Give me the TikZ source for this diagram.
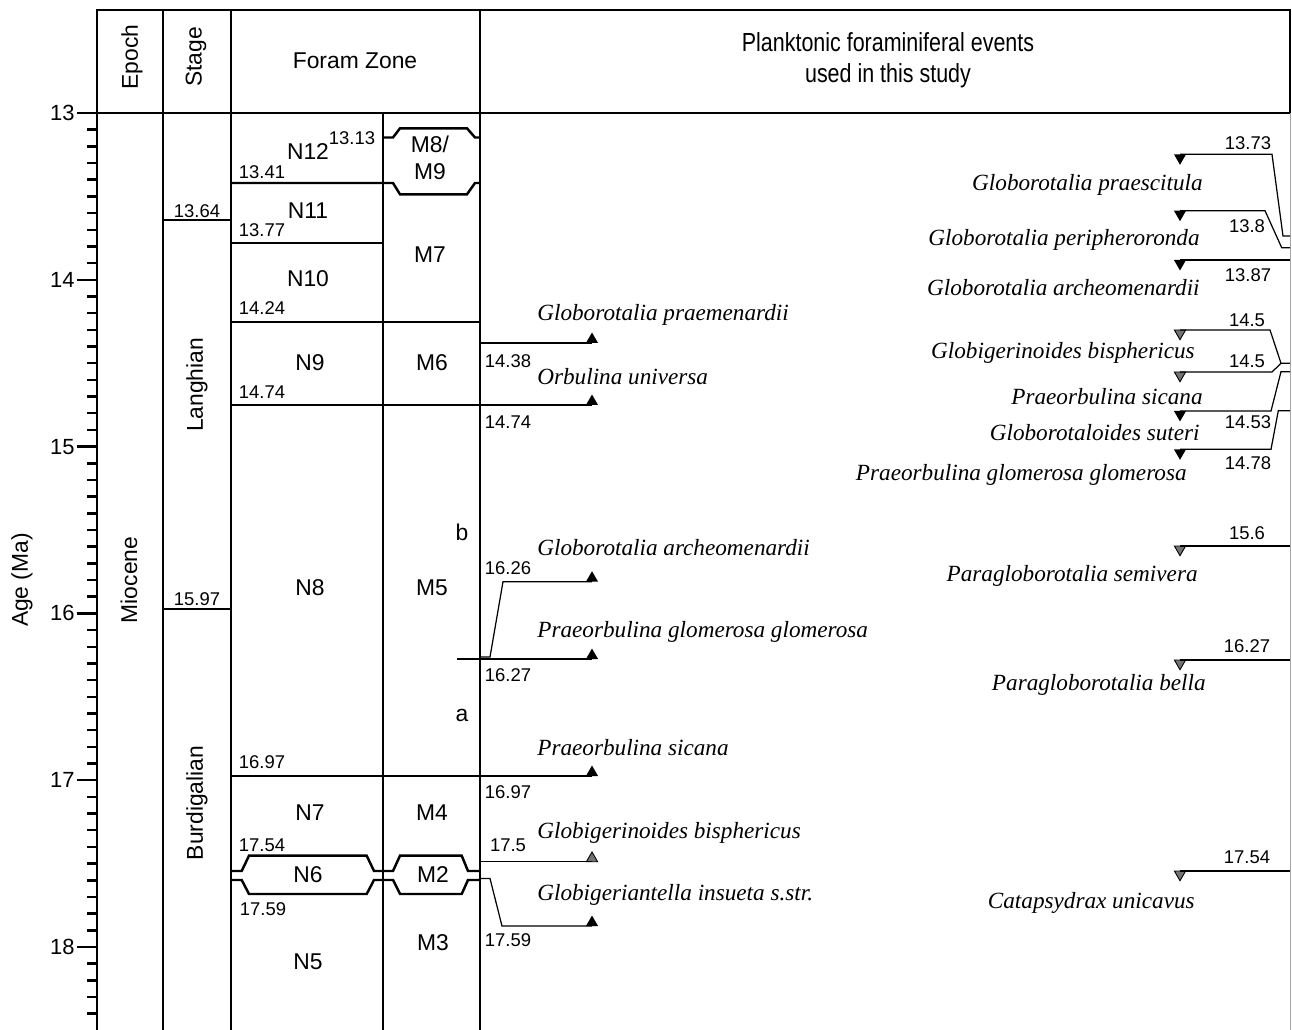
\documentclass[tikz,border=0pt]{standalone}
\usepackage{fontspec}
\setmainfont{Liberation Serif}
\setsansfont{Liberation Sans}
\newfontfamily\narrowsf[FakeStretch=0.82]{Liberation Sans}
\usetikzlibrary{shapes.geometric}

\tikzset{
  zone/.style={line width=1.4pt},
  ev/.style={line width=0.7pt},
  lab/.style={font=\sffamily\fontsize{13}{15}\selectfont,inner sep=0pt},
  num/.style={font=\sffamily\fontsize{10.5}{12}\selectfont,inner sep=0pt},
  axnum/.style={font=\sffamily\fontsize{12.5}{14}\selectfont,inner sep=0pt,anchor=east},
  spec/.style={font=\fontsize{13.2}{15}\selectfont\itshape,inner sep=0pt},
  uptri/.style={regular polygon,regular polygon sides=3,fill,inner sep=0pt,outer sep=0pt,minimum size=0.28cm,anchor=south},
  dntri/.style={uptri,shape border rotate=180,anchor=north},
  gtri/.style={draw=black,fill=black!55,line width=0.5pt,minimum size=0.26cm}
}

\begin{document}
\begin{tikzpicture}[x=0.02cm,y=-0.02cm]
\useasboundingbox (0,0) rectangle (1292,1030);
%frame and columns
\draw[zone](97,1030)--(97,10)--(1290,10)--(1290,113);
\draw[zone](163,10)--(163,1030) (231,10)--(231,1030) (480,10)--(480,1030) (383,113)--(383,1030);
\draw[zone](77,113)--(1290,113);
\draw[black!35,line width=0.5pt](1290,113)--(1290,1030);
%age axis
\foreach \i in {0,...,54}{\draw[zone](87,113+\i*16.68)--(97,113+\i*16.68);}
\foreach \a [count=\i from 0] in {13,...,18}{
  \draw[zone](77,113+\i*166.8)--(97,113+\i*166.8);
  \node[axnum](ax\a) at (75,113+\i*166.8){\a};}
\node[lab,rotate=90](agema) at (22,580){Age (Ma)};
%header
\node[lab,rotate=90](epoch) at (132,57){Epoch};
\node[lab,rotate=90](stage) at (196,57){Stage};
\node[lab](foram) at (355,61){Foram Zone};
\node[font=\narrowsf\fontsize{14.9}{17.5}\selectfont,align=center,inner sep=0pt](events) at (888,60){Planktonic foraminiferal events\\used in this study};
%epoch and stage
\node[lab,rotate=90](miocene) at (129,580){Miocene};
\node[lab,rotate=90](langhian) at (197,385){Langhian};
\node[lab,rotate=90](burdig) at (197,803){Burdigalian};
\draw[zone](163,220)--(231,220) (163,609)--(231,609);
\node[num] at (197,211){13.64};
\node[num] at (197,599){15.97};
%foram zones
\draw[zone](231,183)--(393,183)--(400,194.3)--(467,194.3)--(475,183)--(480,183);
\draw[zone](383,137.5)--(393,137.5)--(400,128.3)--(467,128.3)--(475,137.5)--(480,137.5);
\draw[zone](231,243)--(383,243) (231,322)--(480,322) (231,405)--(480,405) (231,776)--(480,776);
\draw[zone](231,871)--(241.7,871)--(249,855.7)--(366.7,855.7)--(374,871)--(393,871)--(400,855.7)--(461.7,855.7)--(468,871)--(480,871);
\draw[zone](231,880)--(241.7,880)--(249,894)--(366.7,894)--(374,880)--(393,880)--(400,894)--(461.7,894)--(468,880)--(480,880);
\node[lab](n12) at (308,152){N12};
\node[num] at (352,138){13.13};
\node[num] at (262,172){13.41};
\node[lab](n11) at (308,211){N11};
\node[num] at (262,230){13.77};
\node[lab](n10) at (308,279){N10};
\node[num] at (262,308){14.24};
\node[lab](n9) at (310,363){N9};
\node[num] at (262,392){14.74};
\node[lab](n8) at (310,588){N8};
\node[num] at (262,762){16.97};
\node[lab](n7) at (310,813){N7};
\node[num] at (262,845){17.54};
\node[lab](n6) at (308,875){N6};
\node[num] at (263,909){17.59};
\node[lab](n5) at (308,962){N5};
\node[lab,align=center](m8) at (430,158){M8/\\M9};
\node[lab](m7) at (430,255){M7};
\node[lab](m6) at (432,363){M6};
\node[lab](m5) at (432,588){M5};
\node[lab](m5b) at (462,532){b};
\node[lab](m5a) at (462,715){a};
\node[lab](m4) at (432,813){M4};
\node[lab](m2) at (433,875){M2};
\node[lab](m3) at (433,943){M3};
%first occurrences
\node[uptri](pmen) at (592,343){};
\draw[ev](480,343)--(pmen.south);
\node[spec,anchor=west] at (537,315){Globorotalia praemenardii};
\node[num] at (508,361){14.38};
\node[uptri](ouni) at (592,405){};
\draw[ev](480,405)--(ouni.south);
\node[spec,anchor=west] at (537,377){Orbulina universa};
\node[num] at (508,422){14.74};
\node[uptri](arch) at (592,581.7){};
\draw[ev](480,657)--(490,657)--(503,581.7)--(arch.south);
\node[spec,anchor=west] at (537,548){Globorotalia archeomenardii};
\node[num] at (508,568){16.26};
\node[uptri](pglo) at (592,659){};
\draw[ev](457,659)--(pglo.south);
\node[spec,anchor=west] at (537,632){Praeorbulina glomerosa glomerosa};
\node[num] at (508,675){16.27};
\node[uptri](psic) at (592,776){};
\draw[ev](480,776)--(psic.south);
\node[spec,anchor=west] at (537,748){Praeorbulina sicana};
\node[num] at (508,792){16.97};
\node[uptri,gtri](gbis) at (592,861.7){};
\draw[ev](480,861.7)--(gbis.south);
\node[spec,anchor=west] at (537,833){Globigerinoides bisphericus};
\node[num] at (508,845){17.5};
\node[uptri](gins) at (592,926){};
\draw[ev](480,878.5)--(490,878.5)--(502,926)--(gins.south);
\node[spec,anchor=west] at (537,895){Globigeriantella insueta s.str.};
\node[num] at (508,940){17.59};
%last occurrences
\node[dntri](gpra) at (1180,154.3){};
\draw[ev](gpra.north)--(1272,154.3)--(1283,236)--(1290,236);
\node[num] at (1248,143){13.73};
\node[spec,anchor=east] at (1203,185){Globorotalia praescitula};
\node[dntri](gper) at (1180,210.7){};
\draw[ev](gper.north)--(1265,210.7)--(1281.7,247.7)--(1290,247.7);
\node[num] at (1247,226){13.8};
\node[spec,anchor=east] at (1200,240){Globorotalia peripheroronda};
\node[dntri](garc) at (1180,260){};
\draw[ev](garc.north)--(1290,260);
\node[num] at (1248,275){13.87};
\node[spec,anchor=east] at (1200,288){Globorotalia archeomenardii};
\node[dntri,gtri](rbis) at (1180,330){};
\draw[ev](rbis.north)--(1270,330)--(1281,363.3)--(1290,363.3);
\node[num] at (1247,320){14.5};
\node[spec,anchor=east] at (1195,353){Globigerinoides bisphericus};
\node[dntri,gtri](rsic) at (1180,372){};
\draw[ev](rsic.north)--(1272,372)--(1281,363.3);
\node[num] at (1247,361){14.5};
\node[spec,anchor=east] at (1203,397){Praeorbulina sicana};
\node[dntri](gsut) at (1180,411){};
\draw[ev](gsut.north)--(1271,411)--(1281,371.7)--(1290,371.7);
\node[num] at (1248,422){14.53};
\node[spec,anchor=east] at (1200,433){Globorotaloides suteri};
\node[dntri](rglo) at (1180,449.3){};
\draw[ev](rglo.north)--(1271,449.3)--(1278.3,410.7)--(1290,410.7);
\node[num] at (1248,463){14.78};
\node[spec,anchor=east] at (1187,475){Praeorbulina glomerosa glomerosa};
\node[dntri,gtri](psem) at (1180,546){};
\draw[ev](psem.north)--(1290,546);
\node[num] at (1247,533){15.6};
\node[spec,anchor=east] at (1198,576){Paragloborotalia semivera};
\node[dntri,gtri](pbel) at (1180,660){};
\draw[ev](pbel.north)--(1290,660);
\node[num] at (1247,646){16.27};
\node[spec,anchor=east] at (1206,685){Paragloborotalia bella};
\node[dntri,gtri](cuni) at (1180,871){};
\draw[ev](cuni.north)--(1290,871);
\node[num] at (1247,857){17.54};
\node[spec,anchor=east] at (1195,903){Catapsydrax unicavus};
\end{tikzpicture}
\end{document}
